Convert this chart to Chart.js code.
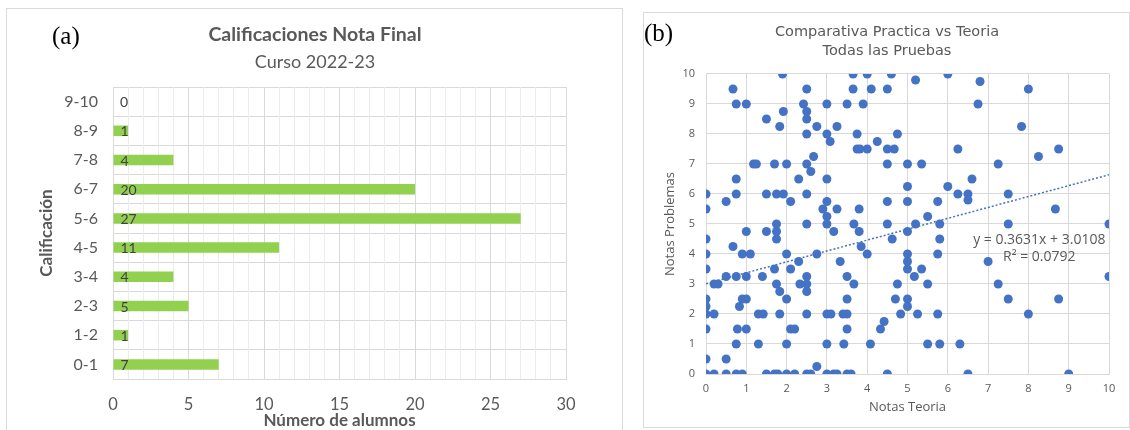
<!DOCTYPE html>
<html>
<head>
<meta charset="utf-8">
<script src="https://cdn.jsdelivr.net/npm/chart.js@4.4.1/dist/chart.umd.min.js"></script>
<style>
  body { margin: 0; background: #fff; width: 1130px; height: 430px; overflow: hidden; position: relative; }
  .panel { position: absolute; border: 1px solid #d9d9d9; box-sizing: border-box; }
  .tag { position: absolute; font-family: "Liberation Serif", serif; font-size: 25px; color: #000; }
  canvas { position: absolute; left: 0; top: 0; }
</style>
</head>
<body>
<div class="panel" style="left:6px; top:8px; width:617px; height:440px;">
  <canvas id="bars" width="616" height="422"></canvas>
</div>
<div class="panel" style="left:643px; top:12px; width:487px; height:416px;">
  <canvas id="scatter" width="486" height="415"></canvas>
</div>
<div class="tag" style="left:52px; top:22px;">(a)</div>
<div class="tag" style="left:644px; top:19px;">(b)</div>
<script>
// panel (a): final grades
const gradeBins = ['0-1', '1-2', '2-3', '3-4', '4-5', '5-6', '6-7', '7-8', '8-9', '9-10'];
const studentCounts = [7, 1, 5, 4, 11, 27, 20, 4, 1, 0];
const countTicks = [0, 5, 10, 15, 20, 25, 30];

// panel (b): practice vs theory, one entry per student test
const teoriaX = [
  1.9, 3.65, 4.0, 4.6, 6.0, 5.2, 6.8,
  0.67, 2.5, 3.65, 4.1, 4.5, 8.0,
  0.75, 1.0, 2.42, 3.0, 3.5, 3.9, 6.75,
  1.92, 2.5, 1.5, 2.5,
  1.83, 2.75, 3.25, 7.83,
  2.5, 3.0, 3.75, 4.75,
  3.08, 4.25,
  3.75, 3.82, 4.0, 4.5, 4.67, 6.25, 8.75,
  2.67, 8.25,
  1.18, 1.25, 1.7, 2.0, 2.5, 4.5, 5.0, 5.35, 7.25,
  2.6,
  0.75, 2.3, 3.0, 6.6,
  5.0, 6.0,
  0, 0.75, 1.5, 1.75, 1.92, 2.5, 6.25, 6.5, 7.5,
  6.5,
  0.5, 2.1, 3.0, 4.5, 5.0, 5.75,
  0, 2.9, 3.25, 3.8, 8.67,
  3.0, 5.5,
  1.75, 2.5, 3.0, 3.67, 4.5, 5.2, 5.8, 7.5, 10,
  1.0, 1.5, 1.75, 3.17, 3.8, 5.0,
  0, 1.75, 4.62, 5.8,
  0.67, 3.85,
  0, 0.9, 1.1, 2.0, 2.75, 4.0, 5.0, 5.75,
  2.3, 3.33, 5.0, 7.0,
  0, 1.7, 2.1, 5.0, 5.35,
  0.5, 0.75, 1.0, 1.4, 2.5, 3.5, 5.17, 10,
  0.2, 0.3, 1.75, 2.33, 2.5, 3.67, 4.75, 5.5, 7.25,
  1.83, 2.5,
  0, 0.9, 1.0, 2.0, 3.5, 4.7, 5.0, 7.5, 8.75,
  0, 0.83, 5.0,
  0, 0.2, 1.3, 1.42, 1.83, 2.5, 3.0, 3.1, 3.4, 3.5, 4.83, 5.25, 5.75, 8.0,
  4.42,
  0, 0.78, 1.0, 2.1, 2.2, 3.5, 4.33,
  0.75, 1.3, 2.0, 3.0, 3.42, 4.08, 5.5, 5.8, 6.3,
  0, 0.5,
  2.75,
  0, 0.2, 0.5, 0.75, 0.9, 1.5, 1.7, 1.78, 2.0, 2.2, 2.5, 2.6, 3.0, 3.17, 3.25, 3.5, 3.6, 4.5, 6.5, 9.0
];
const problemasY = [
  10, 10, 10, 10, 10, 9.8, 9.75,
  9.5, 9.5, 9.5, 9.5, 9.5, 9.5,
  9, 9, 9, 9, 9, 9, 9,
  8.75, 8.75, 8.5, 8.5,
  8.25, 8.25, 8.25, 8.25,
  8, 8, 8, 8,
  7.75, 7.75,
  7.5, 7.5, 7.5, 7.5, 7.5, 7.5, 7.5,
  7.25, 7.25,
  7, 7, 7, 7, 7, 7, 7, 7, 7,
  6.75,
  6.5, 6.5, 6.5, 6.5,
  6.25, 6.25,
  6, 6, 6, 6, 6, 6, 6, 6, 6,
  5.8,
  5.75, 5.75, 5.75, 5.75, 5.75, 5.75,
  5.5, 5.5, 5.5, 5.5, 5.5,
  5.25, 5.25,
  5, 5, 5, 5, 5, 5, 5, 5, 5,
  4.75, 4.75, 4.75, 4.75, 4.75, 4.75,
  4.5, 4.5, 4.5, 4.5,
  4.25, 4.25,
  4, 4, 4, 4, 4, 4, 4, 4,
  3.75, 3.75, 3.75, 3.75,
  3.5, 3.5, 3.5, 3.5, 3.5,
  3.25, 3.25, 3.25, 3.25, 3.25, 3.25, 3.25, 3.25,
  3, 3, 3, 3, 3, 3, 3, 3, 3,
  2.75, 2.75,
  2.5, 2.5, 2.5, 2.5, 2.5, 2.5, 2.5, 2.5, 2.5,
  2.25, 2.25, 2.25,
  2, 2, 2, 2, 2, 2, 2, 2, 2, 2, 2, 2, 2, 2,
  1.75,
  1.5, 1.5, 1.5, 1.5, 1.5, 1.5, 1.5,
  1, 1, 1, 1, 1, 1, 1, 1, 1,
  0.5, 0.5,
  0.25,
  0, 0, 0, 0, 0, 0, 0, 0, 0, 0, 0, 0, 0, 0, 0, 0, 0, 0, 0, 0
];
// linear trend as printed on the chart
const trendX = [0, 10];
const trendY = [3.0108, 6.6418];
const trendLabel = ['y = 0.3631x + 3.0108', 'R² = 0.0792'];

const grey = '#595959';
const gridGrey = '#d9d9d9';

const barLabels = {
  id: 'barLabels',
  afterDatasetsDraw: (chart) => {
    const { ctx } = chart;
    const meta = chart.getDatasetMeta(0);
    ctx.save();
    ctx.font = '14px Lato';
    ctx.fillStyle = '#404040';
    ctx.textBaseline = 'middle';
    meta.data.forEach((bar, i) => {
      ctx.fillText(studentCounts[i], bar.base + 7, bar.y + 1);
    });
    ctx.restore();
  }
};

// equal side padding keeps the titles centred on the panel
new Chart(document.getElementById('bars'), {
  type: 'bar',
  data: {
    labels: gradeBins,
    datasets: [{
      data: studentCounts,
      backgroundColor: '#92d050',
      barPercentage: 0.36,
      categoryPercentage: 1
    }]
  },
  options: {
    responsive: false,
    animation: false,
    indexAxis: 'y',
    layout: { padding: { left: 57, right: 57, top: 0, bottom: 0 } },
    plugins: {
      legend: { display: false },
      tooltip: { enabled: false },
      title: {
        display: true,
        text: 'Calificaciones Nota Final',
        color: grey,
        font: { family: 'Lato', size: 19.5, weight: 'bold' },
        padding: { top: 14, bottom: 5 }
      },
      subtitle: {
        display: true,
        text: 'Curso 2022-23',
        color: grey,
        font: { family: 'Lato', size: 18 },
        padding: { top: 0, bottom: 14 }
      }
    },
    scales: {
      y: {
        reverse: true,
        afterFit: (scale) => { scale.width = 49; },
        grid: { color: gridGrey, drawTicks: false },
        border: { color: gridGrey },
        ticks: { color: grey, font: { family: 'Lato', size: 16 }, padding: 15 },
        title: {
          display: true,
          text: 'Calificación',
          color: grey,
          font: { family: 'Lato', size: 17, weight: 'bold' },
          padding: { top: -28, bottom: 0 }
        }
      },
      x: {
        min: 0,
        max: 30,
        afterFit: (scale) => { scale.height = 52; },
        grid: {
          drawTicks: false,
          color: (c) => (c.tick && countTicks.includes(c.tick.value)) ? gridGrey : '#ececec'
        },
        border: { color: gridGrey },
        ticks: {
          stepSize: 1,
          autoSkip: false,
          maxRotation: 0,
          color: grey,
          font: { family: 'Lato', size: 16.5 },
          padding: 16,
          callback: (v) => countTicks.includes(v) ? v : ''
        },
        title: {
          display: true,
          text: 'Número de alumnos',
          color: grey,
          font: { family: 'Lato', size: 17, weight: 'bold' },
          padding: { top: 0, bottom: 0 }
        }
      }
    }
  },
  plugins: [barLabels]
});

const trendText = {
  id: 'trendText',
  afterDraw: (chart) => {
    const { ctx, scales: { x, y } } = chart;
    ctx.save();
    ctx.font = '14px "Open Sans"';
    ctx.fillStyle = grey;
    ctx.textAlign = 'center';
    ctx.textBaseline = 'middle';
    const cx = x.getPixelForValue(8.27);
    ctx.fillText(trendLabel[0], cx, y.getPixelForValue(4.47));
    ctx.fillText(trendLabel[1], cx, y.getPixelForValue(3.9));
    ctx.restore();
  }
};

new Chart(document.getElementById('scatter'), {
  type: 'scatter',
  data: {
    datasets: [{
      type: 'line',
      data: trendX.map((v, i) => ({ x: v, y: trendY[i] })),
      borderColor: '#4472c4',
      borderWidth: 1.5,
      borderDash: [2, 2],
      pointRadius: 0,
      fill: false
    }, {
      data: teoriaX.map((v, i) => ({ x: v, y: problemasY[i] })),
      backgroundColor: '#4472c4',
      borderWidth: 0,
      pointRadius: 4.5
    }]
  },
  options: {
    responsive: false,
    animation: false,
    layout: { padding: { left: 21, right: 21, top: 0, bottom: 0 } },
    plugins: {
      legend: { display: false },
      tooltip: { enabled: false },
      title: {
        display: true,
        text: ['Comparativa Practica vs Teoria', 'Todas las Pruebas'],
        color: grey,
        font: { family: 'DejaVu Sans', size: 14.5, weight: 'normal', lineHeight: 1.31 },
        padding: { top: 10, bottom: 13 }
      }
    },
    scales: {
      x: {
        type: 'linear',
        min: 0,
        max: 10,
        afterFit: (scale) => { scale.height = 54; },
        grid: { color: gridGrey, drawTicks: false },
        border: { color: gridGrey },
        ticks: { stepSize: 1, color: grey, font: { family: 'Open Sans', size: 11 }, padding: 8 },
        title: {
          display: true,
          text: 'Notas Teoria',
          color: grey,
          font: { family: 'Open Sans', size: 13 },
          padding: { top: 0, bottom: 13 }
        }
      },
      y: {
        min: 0,
        max: 10,
        afterFit: (scale) => { scale.width = 41; },
        grid: { color: gridGrey, drawTicks: false },
        border: { color: gridGrey },
        ticks: { stepSize: 1, color: grey, font: { family: 'Open Sans', size: 11 }, padding: 11 },
        title: {
          display: true,
          text: 'Notas Problemas',
          color: grey,
          font: { family: 'Open Sans', size: 13 },
          padding: { top: -3, bottom: 0 }
        }
      }
    }
  },
  plugins: [trendText]
});
</script>
</body>
</html>
